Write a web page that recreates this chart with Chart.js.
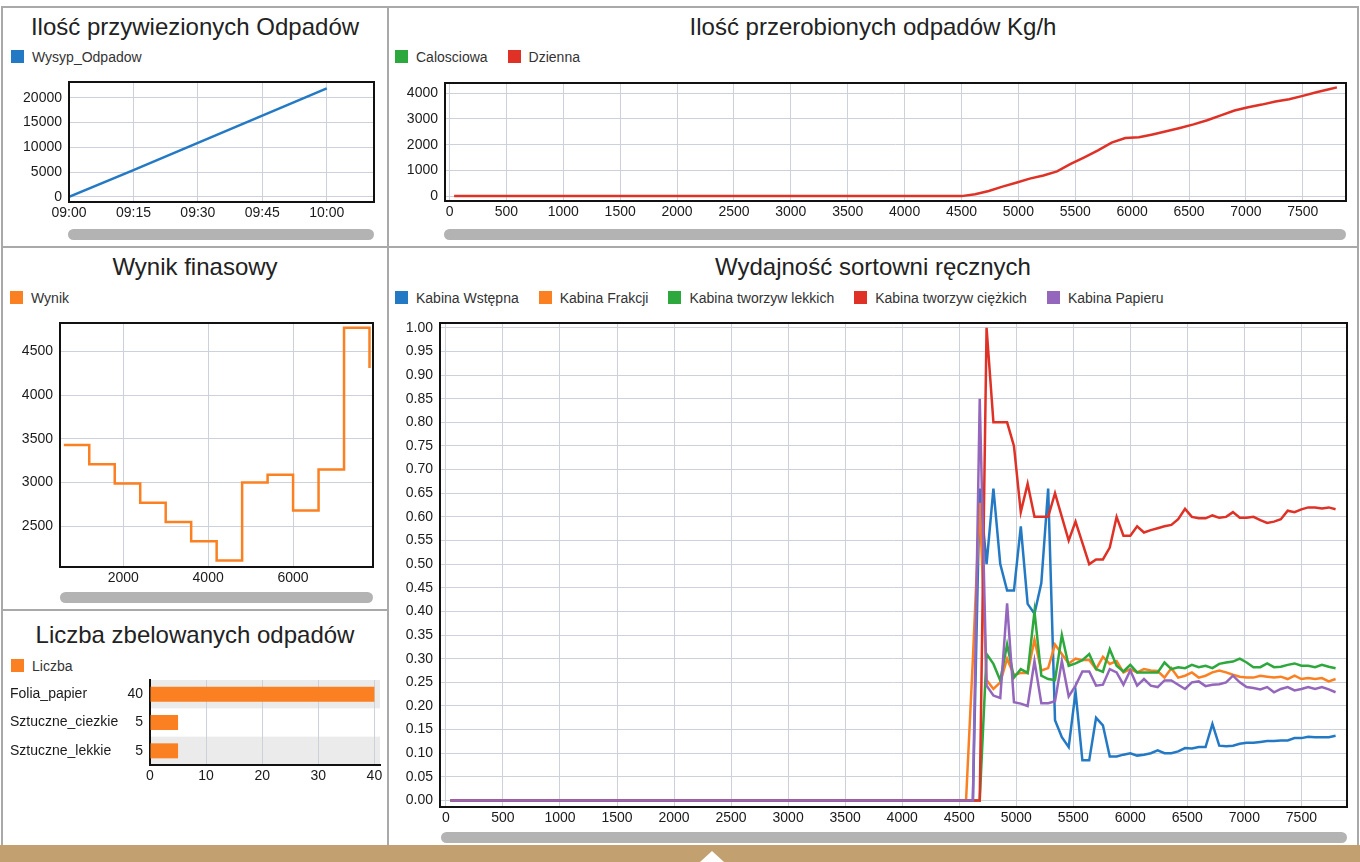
<!DOCTYPE html>
<html lang="pl">
<head>
<meta charset="utf-8">
<title>Panel sortowni</title>
<script src="https://cdn.jsdelivr.net/npm/chart.js@4.4.1/dist/chart.umd.min.js"></script>
<style>
  html, body { margin: 0; padding: 0; background: #fff; }
  body { width: 1360px; height: 862px; position: relative; overflow: hidden;
         font-family: "Liberation Sans", Arial, sans-serif; color: #222; }
  #ramy   { position: absolute; left: 1px; top: 6px; width: 1358px; height: 839px; background: #a9a9a9; }
  .panel  { position: absolute; background: #fff; }
  .tytul  { position: absolute; text-align: center; font-size: 24px; line-height: 28px; color: #222; white-space: nowrap; }
  .leg    { position: absolute; display: flex; align-items: center; height: 13px; font-size: 14px; color: #333; white-space: nowrap; }
  .leg .it { display: flex; align-items: center; margin-right: 20px; }
  .leg i  { display: inline-block; width: 13px; height: 13px; margin-right: 8px; }
  .plot   { position: absolute; }
  .scroll { position: absolute; height: 11px; border-radius: 6px; background: #b3b3b3; }
  #pasek  { position: absolute; left: 0; top: 845px; width: 1360px; height: 17px; background: #c2a06f; }
  #strzalka { position: absolute; left: 700px; top: 851px; width: 0; height: 0;
              border-left: 12px solid transparent; border-right: 12px solid transparent; border-bottom: 11px solid #fff; }
</style>
</head>
<body>
<div id="ramy"></div>
<div class="panel" style="left:3px;top:8px;width:384px;height:238px"></div>
<div class="panel" style="left:389px;top:8px;width:968px;height:238px"></div>
<div class="panel" style="left:3px;top:248px;width:384px;height:361px"></div>
<div class="panel" style="left:3px;top:611px;width:384px;height:234px"></div>
<div class="panel" style="left:389px;top:248px;width:968px;height:597px"></div>

<div class="tytul" style="left:3px;width:384px;top:13px">Ilość przywiezionych Odpadów</div>
<div class="tytul" style="left:389px;width:968px;top:13px">Ilość przerobionych odpadów Kg/h</div>
<div class="tytul" style="left:3px;width:384px;top:253px">Wynik finasowy</div>
<div class="tytul" style="left:3px;width:384px;top:621px">Liczba zbelowanych odpadów</div>
<div class="tytul" style="left:389px;width:968px;top:253px">Wydajność sortowni ręcznych</div>

<div class="leg" id="leg-przyw"  style="left:11px;top:50px"></div>
<div class="leg" id="leg-przer"  style="left:395px;top:50px"></div>
<div class="leg" id="leg-wynik"  style="left:10px;top:291px"></div>
<div class="leg" id="leg-bely"   style="left:11px;top:659px"></div>
<div class="leg" id="leg-sort"   style="left:395px;top:291px"></div>

<div class="plot" style="left:3px;top:76px;width:384px;height:149px"><canvas id="c-przyw"></canvas></div>
<div class="plot" style="left:389px;top:76px;width:968px;height:149px"><canvas id="c-przer"></canvas></div>
<div class="plot" style="left:3px;top:310px;width:384px;height:280px"><canvas id="c-wynik"></canvas></div>
<div class="plot" style="left:3px;top:670px;width:384px;height:130px"><canvas id="c-bely"></canvas></div>
<div class="plot" style="left:389px;top:310px;width:968px;height:520px"><canvas id="c-sort"></canvas></div>

<div class="scroll" style="left:68px;top:229px;width:306px"></div>
<div class="scroll" style="left:444px;top:229px;width:902px"></div>
<div class="scroll" style="left:60px;top:592px;width:313px"></div>
<div class="scroll" style="left:441px;top:832px;width:906px"></div>

<div id="pasek"></div>
<div id="strzalka"></div>

<script>
/* ── Dane ─────────────────────────────────────────────── */

// Ilość przywiezionych odpadów (minuty od 09:00)
const PRZYW_MIN     = [0, 15, 30, 45, 60];
const PRZYW_WYSYP   = [0, 5400, 10900, 16400, 21900];
const PRZYW_X_TICKS = [0, 15, 30, 45, 60];
const PRZYW_Y_TICKS = [0, 5000, 10000, 15000, 20000];

// Ilość przerobionych odpadów Kg/h
const PRZER_X = [40, 4500, 4620, 4740, 4860, 4980, 5100, 5220, 5340, 5460, 5580, 5700, 5820, 5940, 6060,
                 6180, 6300, 6420, 6540, 6660, 6780, 6900, 7020, 7140, 7260, 7380, 7500, 7620, 7740, 7800];
const PRZER_DZIENNA = [0, 0, 70, 200, 370, 520, 680, 800, 960, 1250, 1510, 1780, 2080, 2260, 2290,
                       2400, 2520, 2650, 2790, 2950, 3140, 3330, 3460, 3560, 3680, 3770, 3900, 4040, 4170, 4230];
const PRZER_CALOSCIOWA = [];
const PRZER_Y_TICKS = [0, 1000, 2000, 3000, 4000];

// oś X wspólna dla wykresów przerobu i sortowni
const CZAS_TICKS = [0, 500, 1000, 1500, 2000, 2500, 3000, 3500, 4000, 4500, 5000, 5500, 6000, 6500, 7000, 7500];

// Wynik finansowy (schodkowy)
const WYNIK_X = [600, 1200, 1800, 2400, 3000, 3600, 4200, 4800, 5400, 6000, 6600, 7200, 7800];
const WYNIK_Y = [3430, 3210, 2990, 2770, 2550, 2330, 2110, 3000, 3090, 2680, 3150, 4770, 4310];
const WYNIK_X_TICKS = [2000, 4000, 6000];
const WYNIK_Y_TICKS = [2500, 3000, 3500, 4000, 4500];

// Liczba zbelowanych odpadów
const BELY_KAT    = ['Folia_papier', 'Sztuczne_ciezkie', 'Sztuczne_lekkie'];
const BELY_LICZBA = [40, 5, 5];
const BELY_TICKS  = [0, 10, 20, 30, 40];

// Wydajność sortowni ręcznych
const SORT_X = [40, 4560, 4620, 4680, 4740, 4800, 4860, 4920, 4980, 5040, 5100, 5160, 5220, 5280, 5340,
                5400, 5460, 5520, 5580, 5640, 5700, 5760, 5820, 5880, 5940, 6000, 6060, 6120, 6180, 6240,
                6300, 6360, 6420, 6480, 6540, 6600, 6660, 6720, 6780, 6840, 6900, 6960, 7020, 7080, 7140,
                7200, 7260, 7320, 7380, 7440, 7500, 7560, 7620, 7680, 7740, 7800];
const SORT_WSTEPNA = [0, 0, 0, 0.66, 0.50, 0.66, 0.50, 0.444, 0.444, 0.58, 0.416, 0.395, 0.46, 0.66, 0.17,
                0.134, 0.113, 0.23, 0.085, 0.085, 0.175, 0.159, 0.093, 0.093, 0.097, 0.10, 0.095, 0.097, 0.10, 0.106,
                0.10, 0.10, 0.104, 0.111, 0.11, 0.113, 0.113, 0.162, 0.116, 0.115, 0.116, 0.12, 0.122, 0.122, 0.124,
                0.126, 0.126, 0.127, 0.127, 0.132, 0.132, 0.135, 0.134, 0.134, 0.134, 0.137];
const SORT_FRAKCJI = [0, 0, 0.30, 0.63, 0.255, 0.236, 0.25, 0.30, 0.265, 0.27, 0.27, 0.34, 0.275, 0.28, 0.33,
                0.31, 0.29, 0.30, 0.297, 0.297, 0.278, 0.304, 0.289, 0.295, 0.271, 0.278, 0.271, 0.278, 0.275, 0.274,
                0.26, 0.28, 0.26, 0.264, 0.271, 0.26, 0.264, 0.271, 0.275, 0.271, 0.266, 0.262, 0.26, 0.26, 0.264,
                0.262, 0.26, 0.262, 0.257, 0.264, 0.257, 0.259, 0.257, 0.259, 0.252, 0.257];
const SORT_LEKKICH = [0, 0, 0, 0, 0.31, 0.289, 0.254, 0.33, 0.26, 0.278, 0.27, 0.40, 0.264, 0.257, 0.255,
                0.35, 0.285, 0.29, 0.297, 0.31, 0.278, 0.272, 0.32, 0.285, 0.273, 0.287, 0.271, 0.271, 0.271, 0.271,
                0.292, 0.278, 0.282, 0.28, 0.287, 0.282, 0.285, 0.28, 0.289, 0.292, 0.294, 0.30, 0.292, 0.282, 0.282,
                0.29, 0.282, 0.283, 0.287, 0.29, 0.285, 0.285, 0.282, 0.287, 0.283, 0.28];
const SORT_CIEZKICH = [0, 0, 0, 0, 1.00, 0.80, 0.80, 0.80, 0.75, 0.61, 0.67, 0.60, 0.60, 0.60, 0.65,
                0.60, 0.55, 0.59, 0.545, 0.50, 0.51, 0.51, 0.535, 0.60, 0.56, 0.56, 0.58, 0.567, 0.572, 0.576,
                0.58, 0.583, 0.595, 0.617, 0.60, 0.597, 0.597, 0.603, 0.598, 0.60, 0.61, 0.598, 0.598, 0.60, 0.593,
                0.587, 0.59, 0.595, 0.613, 0.61, 0.616, 0.62, 0.62, 0.618, 0.62, 0.616];
const SORT_PAPIERU = [0, 0, 0, 0.85, 0.243, 0.222, 0.217, 0.417, 0.208, 0.205, 0.20, 0.295, 0.206, 0.206, 0.21,
                0.295, 0.22, 0.243, 0.273, 0.273, 0.243, 0.245, 0.278, 0.271, 0.245, 0.275, 0.243, 0.257, 0.243, 0.24,
                0.254, 0.254, 0.245, 0.236, 0.25, 0.252, 0.242, 0.245, 0.246, 0.25, 0.264, 0.25, 0.24, 0.238, 0.235,
                0.24, 0.229, 0.236, 0.24, 0.233, 0.236, 0.24, 0.236, 0.24, 0.235, 0.229];
const SORT_Y_TICKS = [0, 0.05, 0.10, 0.15, 0.20, 0.25, 0.30, 0.35, 0.40, 0.45, 0.50,
                      0.55, 0.60, 0.65, 0.70, 0.75, 0.80, 0.85, 0.90, 0.95, 1.00];

/* ── Style ────────────────────────────────────────────── */
const BLUE = '#2479c4', ORANGE = '#fb8022', GREEN = '#2ca83c', RED = '#df3126', PURPLE = '#9467bd';
const GRID = '#ccd1da';
const TICK_COLOR = '#1a1a1a';
const TICK_FONT = { size: 14 };

Chart.defaults.font.family = '"Liberation Sans", Arial, sans-serif';
Chart.defaults.animation = false;

const pary = (xs, ys) => xs.map((x, i) => ({ x, y: ys[i] }));

// czarna ramka wokół obszaru wykresu
const ramka = {
  id: 'ramka',
  afterDatasetsDraw(chart) {
    const { ctx, chartArea: a } = chart;
    ctx.save();
    ctx.strokeStyle = '#111';
    ctx.lineWidth = 2;
    ctx.strokeRect(a.left, a.top, a.right - a.left, a.bottom - a.top);
    ctx.restore();
  },
};

// oś liniowa ze stałą listą podziałek; rozmiar osi ustawiony na sztywno
function os(min, max, ticks, size, isX, fmt) {
  return {
    type: 'linear', min, max,
    border: { display: false },
    grid: { color: GRID, drawTicks: false },
    ticks: {
      autoSkip: false, maxRotation: 0,
      padding: isX ? 3 : 7, font: TICK_FONT, color: TICK_COLOR,
      callback: fmt || (v => String(v)),
    },
    afterBuildTicks: s => { s.ticks = ticks.map(value => ({ value })); },
    afterFit: s => {
      if (isX) s.height = size; else s.width = size;
      s.paddingTop = s.paddingBottom = s.paddingLeft = s.paddingRight = 0;
    },
  };
}

function legenda(elId, datasets) {
  document.getElementById(elId).innerHTML = datasets
    .map(d => `<span class="it"><i style="background:${d.borderColor || d.backgroundColor}"></i>${d.label}</span>`)
    .join('');
}

function wykresLiniowy(id, datasets, padding, x, y) {
  return new Chart(document.getElementById(id), {
    type: 'line',
    data: { datasets },
    options: {
      responsive: true, maintainAspectRatio: false,
      layout: { padding },
      plugins: { legend: { display: false }, tooltip: { enabled: false } },
      elements: { point: { radius: 0 }, line: { borderWidth: 2.5, tension: 0 } },
      scales: { x, y },
    },
    plugins: [ramka],
  });
}

// ── Ilość przywiezionych Odpadów ─────────────────────────
const dsPrzyw = [
  { label: 'Wysyp_Odpadow', data: pary(PRZYW_MIN, PRZYW_WYSYP), borderColor: BLUE, backgroundColor: BLUE },
];
legenda('leg-przyw', dsPrzyw);
wykresLiniowy('c-przyw', dsPrzyw, { top: 6, right: 13 },
  os(0, 71, PRZYW_X_TICKS, 23, true, v => {
    const m = 9 * 60 + v;
    return String(Math.floor(m / 60)).padStart(2, '0') + ':' + String(m % 60).padStart(2, '0');
  }),
  os(-1016, 23170, PRZYW_Y_TICKS, 66, false));

// ── Ilość przerobionych odpadów Kg/h ─────────────────────
const dsPrzer = [
  { label: 'Calosciowa', data: pary(PRZER_X, PRZER_CALOSCIOWA), borderColor: GREEN, backgroundColor: GREEN },
  { label: 'Dzienna',    data: pary(PRZER_X, PRZER_DZIENNA),    borderColor: RED,   backgroundColor: RED },
];
legenda('leg-przer', dsPrzer);
wykresLiniowy('c-przer', dsPrzer, { top: 7, right: 11 },
  os(-40, 7880, CZAS_TICKS, 24, true),
  os(-190, 4400, PRZER_Y_TICKS, 56, false));

// ── Wynik finasowy ───────────────────────────────────────
const dsWynik = [
  { label: 'Wynik', data: pary(WYNIK_X, WYNIK_Y), borderColor: ORANGE, backgroundColor: ORANGE, stepped: true },
];
legenda('leg-wynik', dsWynik);
wykresLiniowy('c-wynik', dsWynik, { top: 13, right: 14 },
  os(511, 7882, WYNIK_X_TICKS, 23, true),
  os(2035, 4823, WYNIK_Y_TICKS, 57, false));

// ── Wydajność sortowni ręcznych ──────────────────────────
const dsSort = [
  { label: 'Kabina Wstępna',          data: pary(SORT_X, SORT_WSTEPNA),  borderColor: BLUE,   backgroundColor: BLUE,   order: 5 },
  { label: 'Kabina Frakcji',          data: pary(SORT_X, SORT_FRAKCJI),  borderColor: ORANGE, backgroundColor: ORANGE, order: 4 },
  { label: 'Kabina tworzyw lekkich',  data: pary(SORT_X, SORT_LEKKICH),  borderColor: GREEN,  backgroundColor: GREEN,  order: 3 },
  { label: 'Kabina tworzyw ciężkich', data: pary(SORT_X, SORT_CIEZKICH), borderColor: RED,    backgroundColor: RED,    order: 2 },
  { label: 'Kabina Papieru',          data: pary(SORT_X, SORT_PAPIERU),  borderColor: PURPLE, backgroundColor: PURPLE, order: 1 },
];
legenda('leg-sort', dsSort);
wykresLiniowy('c-sort', dsSort, { top: 13, right: 10 },
  os(-52, 7900, CZAS_TICKS, 23, true),
  os(-0.0137, 1.0101, SORT_Y_TICKS, 51, false, v => v.toFixed(2)));

// ── Liczba zbelowanych odpadów ───────────────────────────
// szare pasy co drugiej kategorii
const pasy = {
  id: 'pasy',
  beforeDraw(chart) {
    const { ctx, chartArea: a, scales: { y } } = chart;
    const h = (a.bottom - a.top) / chart.data.labels.length;
    ctx.save();
    ctx.fillStyle = '#ebebeb';
    chart.data.labels.forEach((_, i) => {
      if (i % 2 === 0) ctx.fillRect(a.left, y.getPixelForValue(i) - h / 2, a.right - a.left, h);
    });
    ctx.restore();
  },
};
// wartości obok osi
const wartosci = {
  id: 'wartosci',
  afterDraw(chart) {
    const { ctx, chartArea: a } = chart;
    const ds = chart.data.datasets[0];
    ctx.save();
    ctx.font = '14px "Liberation Sans", Arial, sans-serif';
    ctx.fillStyle = TICK_COLOR;
    ctx.textAlign = 'right';
    ctx.textBaseline = 'middle';
    chart.getDatasetMeta(0).data.forEach((bar, i) => ctx.fillText(String(ds.data[i]), a.left - 7, bar.y));
    ctx.restore();
  },
};

const dsBely = [
  { label: 'Liczba', data: BELY_LICZBA, backgroundColor: ORANGE, categoryPercentage: 1, barPercentage: 0.53 },
];
legenda('leg-bely', dsBely);
new Chart(document.getElementById('c-bely'), {
  type: 'bar',
  data: { labels: BELY_KAT, datasets: dsBely },
  options: {
    indexAxis: 'y',
    responsive: true, maintainAspectRatio: false,
    layout: { padding: { top: 10, right: 7, left: 7 } },
    plugins: { legend: { display: false }, tooltip: { enabled: false } },
    scales: {
      x: {
        type: 'linear', min: 0, max: 41,
        grid: { color: GRID, drawTicks: false },
        border: { color: '#111', width: 2 },
        ticks: { padding: 3, font: TICK_FONT, color: TICK_COLOR },
        afterBuildTicks: s => { s.ticks = BELY_TICKS.map(value => ({ value })); },
        afterFit: s => { s.height = 35; s.paddingLeft = s.paddingRight = 0; },
      },
      y: {
        grid: { display: false, drawTicks: false },
        border: { color: '#111', width: 2 },
        ticks: { crossAlign: 'far', font: TICK_FONT, color: TICK_COLOR },
        afterFit: s => { s.width = 140; s.paddingTop = s.paddingBottom = 0; },
      },
    },
  },
  plugins: [pasy, wartosci],
});
</script>
</body>
</html>
